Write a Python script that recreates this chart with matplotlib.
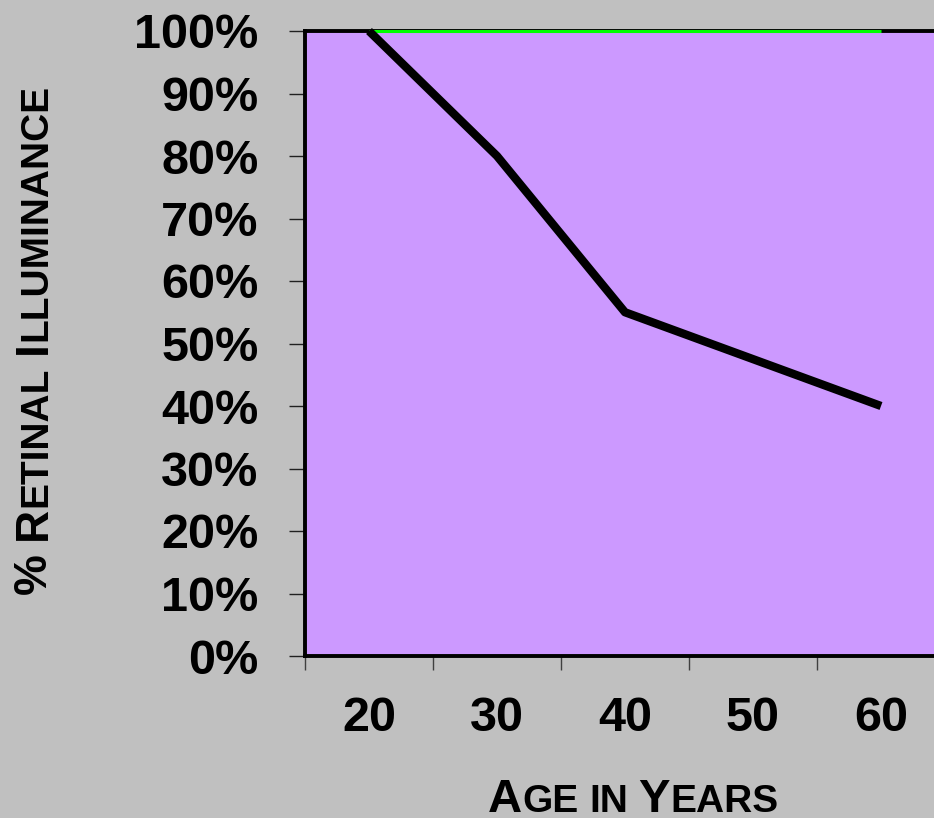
import matplotlib
matplotlib.use("Agg")
import matplotlib.pyplot as plt
from matplotlib.font_manager import FontProperties
from matplotlib.ticker import FixedLocator, NullFormatter, PercentFormatter

# data
ages = ["20", "30", "40", "50", "60"]
illuminance = [100, 80, 55, 47.5, 40]
reference = [100, 100, 100, 100, 100]

plt.rcParams['font.family'] = ['Liberation Sans', 'DejaVu Sans']
plt.rcParams['font.weight'] = 'bold'

W, H = 934, 818
fig = plt.figure(figsize=(W / 100, H / 100), dpi=100)
fig.patch.set_facecolor('#C0C0C0')

# plot area runs off the right edge like the original slide
ax = fig.add_axes([305 / W, 162 / H, 640 / W, 625 / H])
ax.set_facecolor('#CC99FF')

x = list(range(len(ages)))
ax.plot(x, reference, color='#00FF00', lw=2.2, solid_capstyle='butt',
        clip_on=False, zorder=3)
ax.plot(x, illuminance, color='black', lw=6, solid_capstyle='butt',
        clip_on=False, zorder=4)

ax.set_xlim(-0.5, len(ages) - 0.5)
ax.set_ylim(0, 100)

# category axis: ticks on the boundaries, labels in the middle
ax.xaxis.set_major_locator(FixedLocator([i - 0.5 for i in range(len(ages) + 1)]))
ax.xaxis.set_major_formatter(NullFormatter())
ax.set_xticks(x, ages, minor=True)
ax.tick_params(axis='x', which='major', length=10, width=1, color='#404040')
ax.tick_params(axis='x', which='minor', length=0, pad=29, labelsize=35)

ax.set_yticks(range(0, 101, 10))
ax.yaxis.set_major_formatter(PercentFormatter(decimals=0))
ax.tick_params(axis='y', length=11.5, width=1, color='#202020', pad=22, labelsize=35)

for side in ['left', 'bottom', 'top']:
    ax.spines[side].set_linewidth(2.8)
    ax.spines[side].set_color('black')
ax.spines['right'].set_visible(False)


def small_caps(pieces, cx, cy, rotation=0):
    # draw a label made of big and small capital pieces, centred on (cx, cy) px
    renderer = fig.canvas.get_renderer()
    widths = []
    for s, size in pieces:
        prop = FontProperties(family='Liberation Sans', weight='bold', size=size)
        if s == ' ':
            w1 = renderer.get_text_width_height_descent('x x', prop, ismath=False)[0]
            w2 = renderer.get_text_width_height_descent('xx', prop, ismath=False)[0]
            widths.append(w1 - w2)
        else:
            widths.append(renderer.get_text_width_height_descent(s, prop, ismath=False)[0])
    pos = -sum(widths) / 2
    for (s, size), w in zip(pieces, widths):
        if rotation == 0:
            px, py = cx + pos, cy
        else:
            px, py = cx, cy + pos
        fig.text(px / W, py / H, s, fontsize=size, fontweight='bold',
                 rotation=rotation, rotation_mode='anchor',
                 ha='left', va='baseline')
        pos += w


small_caps([('A', 34), ('GE', 28), (' ', 28), ('IN', 28), (' ', 28),
            ('Y', 34), ('EARS', 28)], 633, 6)
small_caps([('%', 33), (' ', 33), ('R', 33), ('ETINAL', 28), (' ', 33),
            ('I', 33), ('LLUMINANCE', 28)], 46, H - 339, rotation=90)

fig.savefig('out.png', dpi=100, facecolor=fig.get_facecolor())
